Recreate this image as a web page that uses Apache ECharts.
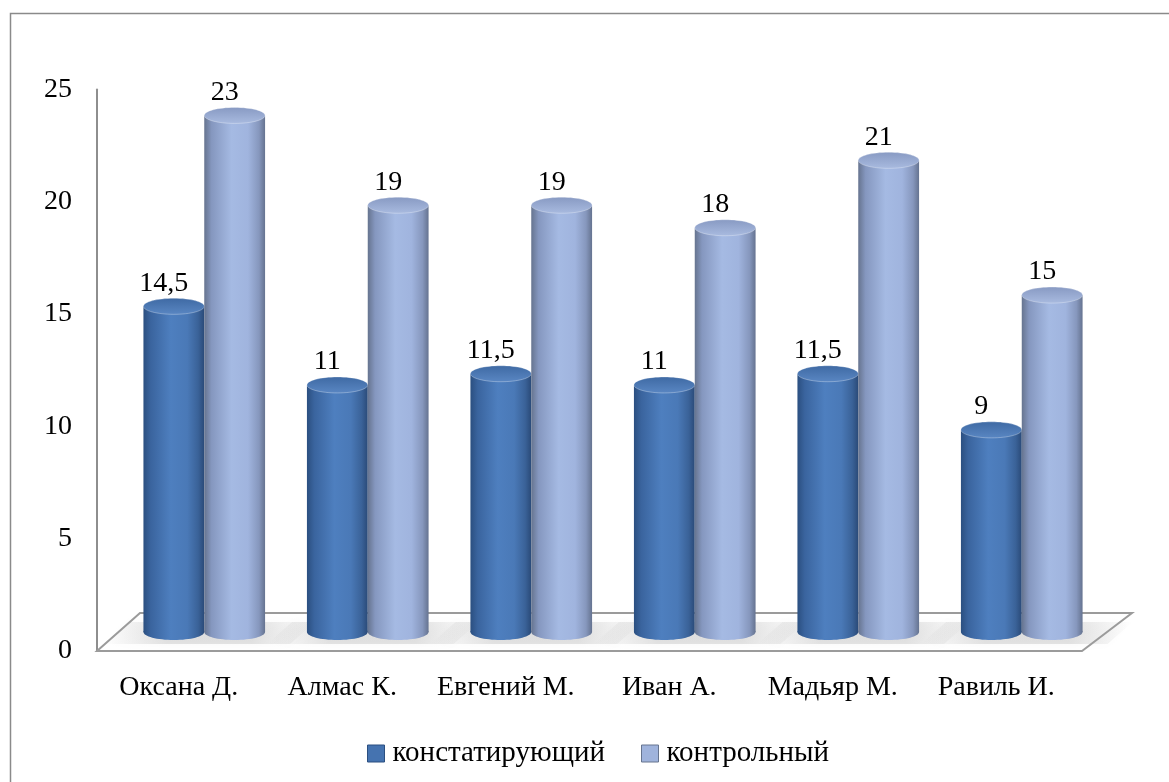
<!DOCTYPE html>
<html>
<head>
<meta charset="utf-8">
<script src="https://cdn.jsdelivr.net/npm/echarts@6/dist/echarts.min.js"></script>
<style>
html,body{margin:0;padding:0;background:#fff;}
#chart{width:1169px;height:782px;}
</style>
</head>
<body>
<div id="chart"></div>
<script>
const categories = ['Оксана Д.', 'Алмас К.', 'Евгений М.', 'Иван А.', 'Мадьяр М.', 'Равиль И.'];
const seriesNames = ['констатирующий', 'контрольный'];
const valuesConst = [14.5, 11, 11.5, 11, 11.5, 9];
const valuesControl = [23, 19, 19, 18, 21, 15];
const yMin = 0, yMax = 25, yInterval = 5;

const FONT = 'Liberation Serif';
const FS = 28;

const palettes = [
  {
    body: [[0,'#2b4f80'],[0.12,'#3a649e'],[0.45,'#4e7fbf'],[0.72,'#4a79b7'],[0.9,'#3a6298'],[1,'#2a4a78']],
    top: [[0,'#3e69a3'],[1,'#5a87c3']],
    legend: '#4573b0'
  },
  {
    body: [[0,'#66748f'],[0.12,'#8597bf'],[0.45,'#a5bae3'],[0.72,'#a0b4de'],[0.9,'#8697bd'],[1,'#657390']],
    top: [[0,'#8799c2'],[1,'#a9bbe0']],
    legend: '#9fb3dc'
  }
];

function grad(stops, vertical) {
  return {
    type: 'linear', x: 0, y: 0, x2: vertical ? 0 : 1, y2: vertical ? 1 : 0,
    colorStops: stops.map(s => ({offset: s[0], color: s[1]})), global: false
  };
}

function fmt(v) { return String(v).replace('.', ','); }

function makeRender(sIdx) {
  const pal = palettes[sIdx];
  return function (params, api) {
    const ci = api.value(0), v = api.value(1);
    const base = api.coord([ci, 0]);
    const top = api.coord([ci, v]);
    const band = api.size([1, 0])[0];
    const w = band * 0.372;
    const dx = band * 0.156, dy = -19;
    const cx = base[0] + dx + (sIdx === 0 ? -w / 2 : w / 2);
    const yb = base[1] + dy, yt = top[1] + dy;
    const ry = 8;
    return {
      type: 'group',
      children: [
        {type: 'ellipse', shape: {cx: cx, cy: yb, rx: w / 2, ry: ry}, style: {fill: grad(pal.body, false)}},
        {type: 'rect', shape: {x: cx - w / 2, y: yt, width: w, height: yb - yt}, style: {fill: grad(pal.body, false)}},
        {type: 'ellipse', shape: {cx: cx, cy: yt, rx: w / 2, ry: ry}, style: {fill: grad(pal.top, true), stroke: 'rgba(255,255,255,0.3)', lineWidth: 1}},
        {type: 'text', x: cx - 10, y: yt - ry - 1, style: {text: fmt(v), fontFamily: FONT, fontSize: FS, fill: '#000', align: 'center', verticalAlign: 'bottom'}}
      ]
    };
  };
}

function floorRender(params, api) {
  const cs = params.coordSys;
  const fl = cs.x, fr = cs.x + cs.width + 4, fy = cs.y + cs.height;
  const by = fy - 38;
  const bl = fl + 43, br = fr + 50;
  const band = cs.width / categories.length;
  const children = [
    {type: 'polygon', shape: {points: [[fl, fy], [fr, fy], [br, by], [bl, by]]},
     style: {fill: '#ffffff', stroke: '#9b9b9b', lineWidth: 2}}
  ];
  for (let i = 0; i < categories.length; i++) {
    const c = fl + band * (i + 0.5) + band * 0.156;
    const w = band * 0.372;
    children.push({
      type: 'polygon',
      shape: {points: [[c - w - 40, fy - 7], [c + w + 25, fy - 7], [c + w + 50, by + 9], [c - w - 15, by + 9]]},
      style: {fill: {type: 'linear', x: 0, y: 0, x2: 1, y2: 0, colorStops: [
        {offset: 0, color: 'rgba(160,160,160,0)'},
        {offset: 0.3, color: 'rgba(160,160,160,0.28)'},
        {offset: 0.7, color: 'rgba(160,160,160,0.28)'},
        {offset: 1, color: 'rgba(160,160,160,0)'}]},
        shadowBlur: 8, shadowColor: 'rgba(140,140,140,0.25)'}
    });
  }
  return {type: 'group', children: children};
}

const chart = echarts.init(document.getElementById('chart'), null, {renderer: 'canvas'});
chart.setOption({
  backgroundColor: '#ffffff',
  animation: false,
  graphic: [{
    type: 'rect', left: 8, top: 11, z: -10,
    shape: {x: 0, y: 0, width: 1200, height: 800},
    style: {fill: 'none', stroke: '#8a8a8a', lineWidth: 1.5}
  }],
  grid: {left: 97, right: 91, top: 89.5, bottom: 131, containLabel: false},
  legend: {
    left: 362, top: 734,
    itemWidth: 17, itemHeight: 17, itemGap: 36,
    icon: 'rect',
    textStyle: {fontFamily: FONT, fontSize: 29, color: '#000', padding: [0, 0, 0, 3]},
    data: [
      {name: seriesNames[0], itemStyle: {color: palettes[0].legend, borderColor: '#2b4f80', borderWidth: 1}},
      {name: seriesNames[1], itemStyle: {color: palettes[1].legend, borderColor: '#66748f', borderWidth: 1}}
    ]
  },
  xAxis: {
    type: 'category', data: categories,
    axisLine: {show: false}, axisTick: {show: false},
    axisLabel: {fontFamily: FONT, fontSize: FS, color: '#000', margin: 23, interval: 0}
  },
  yAxis: {
    type: 'value', min: yMin, max: yMax, interval: yInterval,
    axisLine: {show: true, lineStyle: {color: '#8e8e8e', width: 2}},
    axisTick: {show: false}, splitLine: {show: false},
    axisLabel: {fontFamily: FONT, fontSize: FS, color: '#000', margin: 25}
  },
  series: [
    {type: 'custom', name: '_floor', data: [[0, 0]], renderItem: floorRender, z: 1, silent: true, clip: false},
    {type: 'custom', name: seriesNames[0], data: valuesConst.map((v, i) => [i, v]), renderItem: makeRender(0), z: 2, clip: false,
     itemStyle: {color: palettes[0].legend}, encode: {x: 0, y: 1}},
    {type: 'custom', name: seriesNames[1], data: valuesControl.map((v, i) => [i, v]), renderItem: makeRender(1), z: 3, clip: false,
     itemStyle: {color: palettes[1].legend}, encode: {x: 0, y: 1}}
  ]
});
</script>
</body>
</html>
